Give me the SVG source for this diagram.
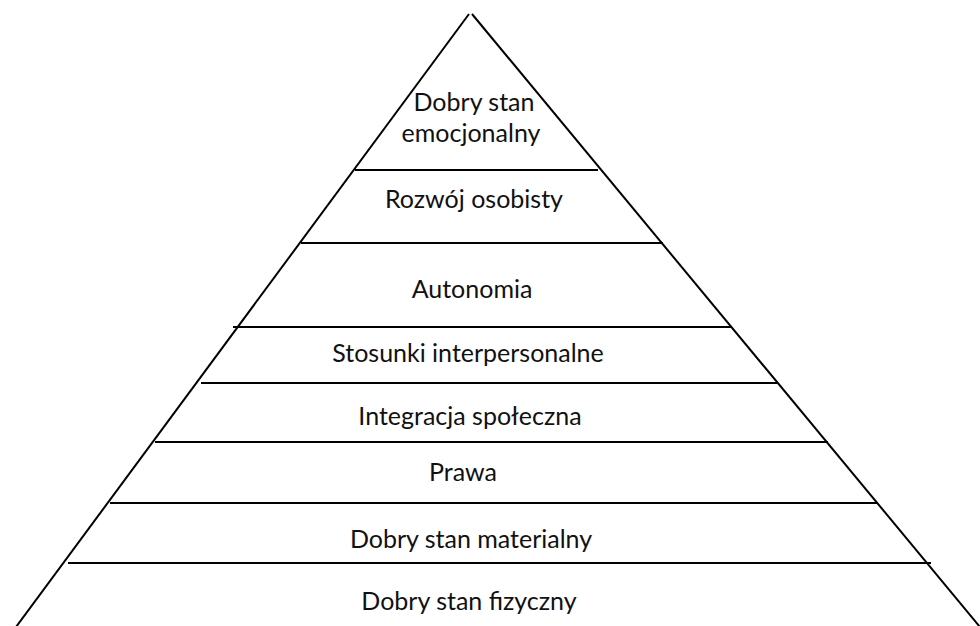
<svg xmlns="http://www.w3.org/2000/svg" width="980" height="626" viewBox="0 0 980 626">
<style>
.side{stroke:#000;stroke-width:2;fill:none}
.div{stroke:#000;stroke-width:2;fill:none}
.lbl{font-family:Lato,"Open Sans","Liberation Sans",sans-serif;font-size:25px;fill:#111;text-anchor:middle}
</style>
<rect width="980" height="626" fill="#fff"/>
<g id="pyramid-outline">
<line class="side" x1="469" y1="14" x2="16" y2="627"/>
<line class="side" x1="472" y1="14" x2="980" y2="627"/>
</g>
<g id="dividers">
<line class="div" x1="355" y1="170" x2="598" y2="170"/>
<line class="div" x1="301" y1="243" x2="663" y2="243"/>
<line class="div" x1="233" y1="327" x2="732" y2="327"/>
<line class="div" x1="201" y1="383" x2="777" y2="383"/>
<line class="div" x1="155" y1="442" x2="828" y2="442"/>
<line class="div" x1="110" y1="503" x2="878" y2="503"/>
<line class="div" x1="68" y1="563" x2="931" y2="563"/>
</g>
<g id="level-8"><text class="lbl" x="474" y="111">Dobry stan</text><text class="lbl" x="471" y="142">emocjonalny</text></g>
<g id="level-7"><text class="lbl" x="474" y="208">Rozwój osobisty</text></g>
<g id="level-6"><text class="lbl" x="472" y="298">Autonomia</text></g>
<g id="level-5"><text class="lbl" x="468" y="362">Stosunki interpersonalne</text></g>
<g id="level-4"><text class="lbl" x="470" y="425">Integracja społeczna</text></g>
<g id="level-3"><text class="lbl" x="463" y="481">Prawa</text></g>
<g id="level-2"><text class="lbl" x="471" y="548">Dobry stan materialny</text></g>
<g id="level-1"><text class="lbl" x="469" y="610">Dobry stan fizyczny</text></g>
</svg>
